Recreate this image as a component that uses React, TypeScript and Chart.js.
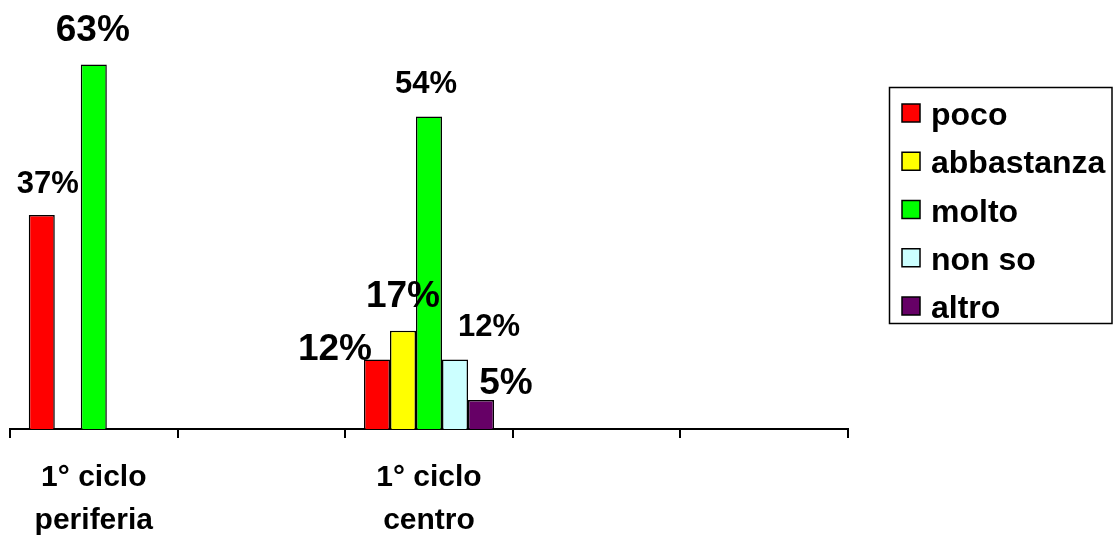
import React, { useEffect, useRef } from "react";
import { Chart, registerables } from "chart.js";

Chart.register(...registerables);

// Categories along the x axis (empty slots keep the spacing of the original layout)
const categories: (string | string[])[] = [
  ["1° ciclo", "periferia"],
  "",
  ["1° ciclo", "centro"],
  "",
  "",
];

// Series values, in percent
const seriesNames = ["poco", "abbastanza", "molto", "non so", "altro"];
const poco = [37, null, 12, null, null];
const abbastanza = [0, null, 17, null, null];
const molto = [63, null, 54, null, null];
const nonSo = [0, null, 12, null, null];
const altro = [0, null, 5, null, null];

const seriesColors = ["#FF0000", "#FFFF00", "#00FF00", "#CCFFFF", "#660066"];

// Where each value label sits relative to the top of its bar, and its size
type LabelStyle = { size: number; dx: number; dy: number } | null;
const labelStyles: LabelStyle[][] = [
  [{ size: 31, dx: 6, dy: -22 }, null, { size: 37, dx: -42, dy: 0 }, null, null],
  [null, null, { size: 37, dx: 0, dy: -24 }, null, null],
  [{ size: 37, dx: -1, dy: -24 }, null, { size: 31, dx: -3, dy: -24 }, null, null],
  [null, null, { size: 31, dx: 34, dy: -24 }, null, null],
  [null, null, { size: 37, dx: 25, dy: -6 }, null, null],
];

const FONT = "'Liberation Sans', Arial, Helvetica, sans-serif";

const valueLabels = {
  id: "valueLabels",
  afterDatasetsDraw(chart: any) {
    const ctx = chart.ctx;
    ctx.save();
    ctx.fillStyle = "#000";
    ctx.textAlign = "center";
    ctx.textBaseline = "alphabetic";
    chart.data.datasets.forEach((ds: any, di: number) => {
      const meta = chart.getDatasetMeta(di);
      meta.data.forEach((bar: any, i: number) => {
        const v = ds.data[i];
        const style = labelStyles[di][i];
        if (v === null || v === 0 || !style) return;
        ctx.font = `bold ${style.size}px ${FONT}`;
        ctx.fillText(`${v}%`, bar.x + style.dx, bar.y + style.dy);
      });
    });
    ctx.restore();
  },
};

const boxedLegend = {
  id: "boxedLegend",
  afterDraw(chart: any) {
    const ctx = chart.ctx;
    const left = 889;
    const top = 87;
    const width = 224;
    const height = 236;
    const rowStart = 113;
    const rowGap = 48.25;
    const sw = 18;
    ctx.save();
    ctx.strokeStyle = "#000";
    ctx.lineWidth = 1.5;
    ctx.strokeRect(left + 0.5, top + 0.5, width - 1.5, height);
    ctx.font = `bold 32px ${FONT}`;
    ctx.textAlign = "left";
    ctx.textBaseline = "alphabetic";
    chart.data.datasets.forEach((ds: any, i: number) => {
      const cy = rowStart + i * rowGap;
      ctx.fillStyle = ds.backgroundColor;
      ctx.fillRect(902, cy - sw / 2, sw, sw);
      ctx.lineWidth = 1.5;
      ctx.strokeStyle = "#000";
      ctx.strokeRect(902, cy - sw / 2, sw, sw);
      ctx.fillStyle = "#000";
      ctx.fillText(ds.label, 931, cy + 12);
    });
    ctx.restore();
  },
};

export default function App() {
  const canvasRef = useRef<HTMLCanvasElement>(null);

  useEffect(() => {
    if (!canvasRef.current) return;
    const values = [poco, abbastanza, molto, nonSo, altro];
    const chart = new Chart(canvasRef.current, {
      type: "bar",
      data: {
        labels: categories,
        datasets: values.map((d, i) => ({
          label: seriesNames[i],
          data: d,
          backgroundColor: seriesColors[i],
          borderColor: "#000",
          borderWidth: 1.5,
          categoryPercentage: 0.776,
          barPercentage: 1,
        })),
      },
      options: {
        responsive: false,
        animation: false,
        layout: { padding: { left: 10, right: 265, top: 24, bottom: 0 } },
        plugins: {
          legend: { display: false },
          tooltip: { enabled: false },
        },
        scales: {
          x: {
            offset: true,
            grid: {
              offset: true,
              drawOnChartArea: false,
              drawTicks: true,
              tickLength: 9,
              color: "#000",
              lineWidth: 2,
            },
            border: { display: true, color: "#000", width: 2 },
            ticks: {
              color: "#000",
              autoSkip: false,
              maxRotation: 0,
              padding: 18,
              font: { family: FONT, size: 30, weight: "bold", lineHeight: 43 / 30 },
            },
            afterFit(scale: any) {
              scale.height = 109;
            },
          },
          y: {
            display: false,
            min: 0,
            max: 70,
          },
        },
      },
      plugins: [valueLabels, boxedLegend],
    });
    return () => chart.destroy();
  }, []);

  return (
    <div style={{ position: "absolute", left: 0, top: 0, width: 1113, height: 538, background: "#fff" }}>
      <canvas ref={canvasRef} width={1113} height={538} style={{ display: "block" }} />
    </div>
  );
}
